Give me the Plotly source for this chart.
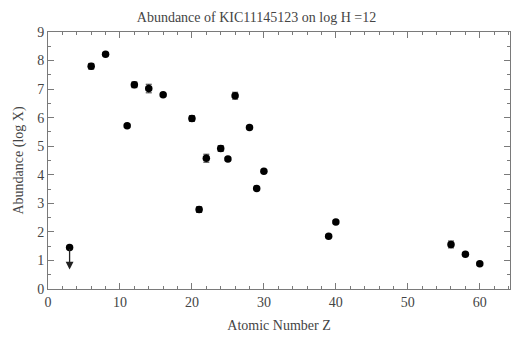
import plotly.graph_objects as go

# Data
Z = [6, 8, 11, 12, 14, 16, 20, 21, 22, 24, 25, 26, 28, 29, 30, 39, 40, 56, 58, 60]
abund = [7.8, 8.22, 5.72, 7.15, 7.02, 6.8, 5.97, 2.78, 4.58, 4.92, 4.55, 6.77, 5.66, 3.52, 4.12, 1.85, 2.35, 1.56, 1.22, 0.88]
err = [0.1, 0.04, 0.04, 0.1, 0.15, 0.05, 0.1, 0.1, 0.14, 0.1, 0.04, 0.12, 0.04, 0.04, 0.04, 0.04, 0.04, 0.12, 0.04, 0.04]
li_Z = [3]
li_val = [1.45]
li_limit = [0.68]

font_family = "Liberation Serif, Times New Roman, serif"
axis_col = "#7a7a7a"
text_col = "#444444"

fig = go.Figure()
fig.add_trace(go.Scatter(
    x=Z, y=abund, mode="markers",
    marker=dict(color="black", size=7.5, symbol="circle"),
    error_y=dict(type="data", array=err, color="#333333", thickness=1, width=3),
    showlegend=False,
))
fig.add_trace(go.Scatter(
    x=li_Z, y=li_val, mode="markers",
    marker=dict(color="black", size=7.5),
    showlegend=False,
))
fig.add_annotation(
    x=li_Z[0], y=li_limit[0], ax=li_Z[0], ay=li_val[0],
    xref="x", yref="y", axref="x", ayref="y",
    showarrow=True, arrowhead=2, arrowsize=1.2, arrowwidth=1.3,
    arrowcolor="#222222", text="",
)

axis_common = dict(
    showline=True, linecolor=axis_col, linewidth=1, mirror="allticks",
    ticks="inside", tickcolor=axis_col, ticklen=6, tickwidth=1,
    showgrid=False, zeroline=False,
    tickfont=dict(family=font_family, size=14, color=text_col),
)

fig.update_xaxes(
    range=[0, 64.2], tick0=0, dtick=10,
    minor=dict(dtick=2, ticks="inside", ticklen=3, tickcolor=axis_col, showgrid=False),
    title=dict(text="Atomic Number Z", font=dict(family=font_family, size=14, color=text_col), standoff=11),
    **axis_common,
)
fig.update_yaxes(
    range=[0, 9], tick0=0, dtick=1,
    minor=dict(dtick=0.5, ticks="inside", ticklen=3, tickcolor=axis_col, showgrid=False),
    title=dict(text="Abundance (log X)", font=dict(family=font_family, size=14, color=text_col), standoff=10),
    **axis_common,
)

fig.update_layout(
    width=513, height=338,
    margin=dict(l=48, r=3, t=32, b=49),
    paper_bgcolor="white", plot_bgcolor="white",
    title=dict(text="Abundance of KIC11145123 on log H =12", x=0.5, xanchor="center",
               y=0.95, yanchor="middle",
               font=dict(family=font_family, size=14, color=text_col)),
)

fig.write_html("out.html")
